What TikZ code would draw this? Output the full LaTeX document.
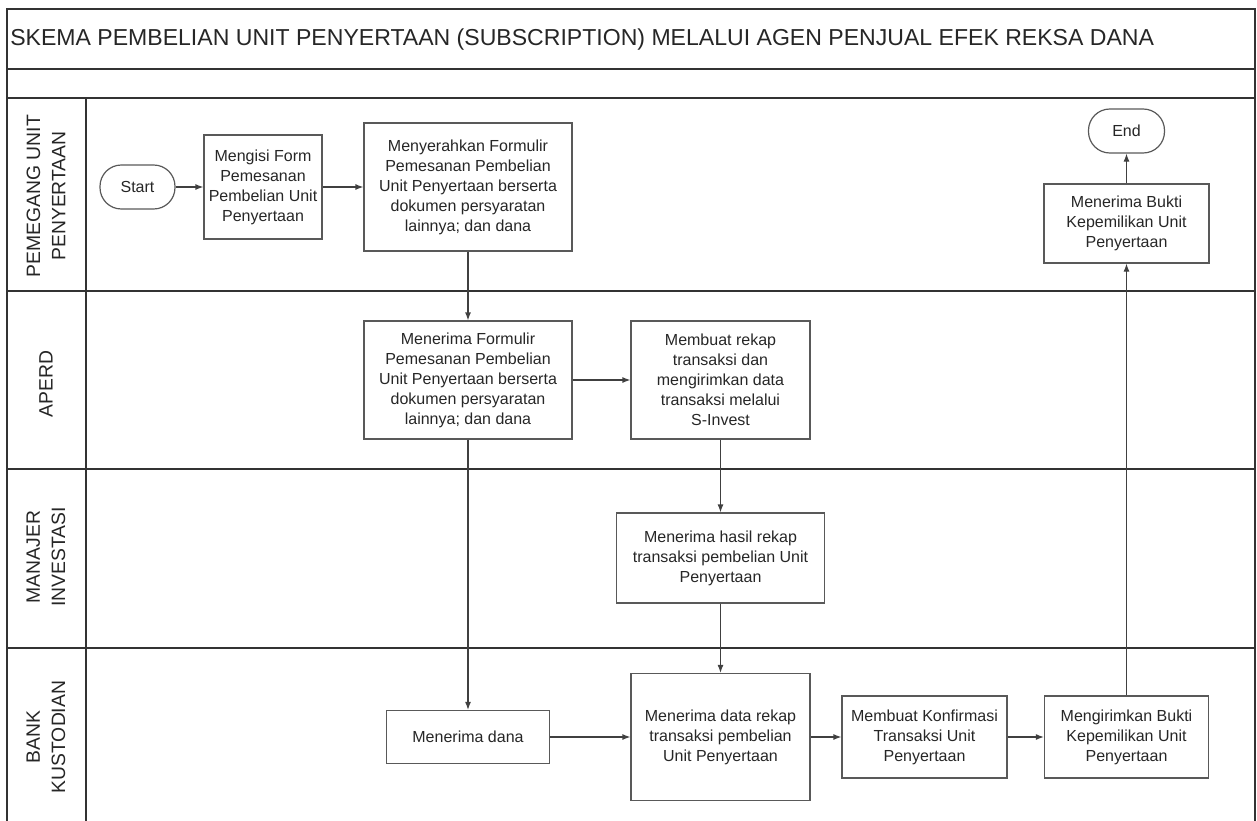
\documentclass[tikz,border=0pt]{standalone}
\usepackage{fontspec}
\setmainfont{Liberation Sans}
\usetikzlibrary{arrows.meta,positioning}

\begin{document}
\begin{tikzpicture}[x=0.75pt,y=-0.75pt,
  lane/.style={line width=1.3pt,draw=black!80},
  proc/.style={draw=black!65,line width=0.9pt,align=center,inner sep=0pt,
    font=\fontsize{12}{15}\selectfont,text=black!85},
  term/.style={proc,rounded corners=16pt},
  flow/.style={draw=black!75,line width=0.9pt,-{Latex[length=6pt,width=4.5pt]}},
  lanelabel/.style={rotate=90,align=center,font=\fontsize{14.5}{19}\selectfont,text=black!85}]

\useasboundingbox (0,0) rectangle (1257,821);

%Frame and lanes
\draw[lane] (7,821) -- (7,9) -- (1255,9) -- (1255,821);
\foreach \y in {69,98,291,469,648}
  \draw[lane] (7,\y) -- (1255,\y);
\draw[lane] (86,98) -- (86,821);

%Title and lane names
\node[anchor=base west,inner sep=0pt,font=\fontsize{17.3}{20}\selectfont,text=black!85] (title) at (10,45)
  {SKEMA PEMBELIAN UNIT PENYERTAAN (SUBSCRIPTION) MELALUI AGEN PENJUAL EFEK REKSA DANA};
\node[lanelabel] (pemegang) at (46,196) {PEMEGANG UNIT\\PENYERTAAN};
\node[lanelabel] (aperd) at (46,384) {APERD};
\node[lanelabel] (manajer) at (46,557) {MANAJER\\INVESTASI};
\node[lanelabel] (bank) at (46,737) {BANK\\KUSTODIAN};

%Steps
\node[term,minimum width=56.25pt,minimum height=33pt] (start) at (137.5,187) {Start};
\node[proc,minimum width=88.5pt,minimum height=78pt] (isi) at (263,187)
  {Mengisi Form\\Pemesanan\\Pembelian Unit\\Penyertaan};
\node[proc,minimum width=156pt,minimum height=96pt] (serah) at (468,187)
  {Menyerahkan Formulir\\Pemesanan Pembelian\\Unit Penyertaan berserta\\dokumen persyaratan\\lainnya; dan dana};
\node[term,minimum width=57pt,minimum height=33pt] (end) at (1126.5,131) {End};
\node[proc,minimum width=123.75pt,minimum height=59.25pt] (bukti) at (1126.5,223.5)
  {Menerima Bukti\\Kepemilikan Unit\\Penyertaan};

\node[proc,minimum width=156pt,minimum height=88.5pt] (terimaform) at (468,380)
  {Menerima Formulir\\Pemesanan Pembelian\\Unit Penyertaan berserta\\dokumen persyaratan\\lainnya; dan dana};
\node[proc,minimum width=134.25pt,minimum height=88.5pt] (rekap) at (720.5,380)
  {Membuat rekap\\transaksi dan\\mengirimkan data\\transaksi melalui\\S-Invest};

\node[proc,minimum width=156pt,minimum height=67.5pt] (hasil) at (720.5,558)
  {Menerima hasil rekap\\transaksi pembelian Unit\\Penyertaan};

\node[proc,minimum width=122.25pt,minimum height=39.75pt] (dana) at (468,737) {Menerima dana};
\node[proc,minimum width=134.25pt,minimum height=95.25pt] (data) at (720.5,737)
  {Menerima data rekap\\transaksi pembelian\\Unit Penyertaan};
\node[proc,minimum width=123.75pt,minimum height=61.5pt] (konfirm) at (924.5,737)
  {Membuat Konfirmasi\\Transaksi Unit\\Penyertaan};
\node[proc,minimum width=123pt,minimum height=61.5pt] (kirim) at (1126.5,737)
  {Mengirimkan Bukti\\Kepemilikan Unit\\Penyertaan};

%Connectors
\draw[flow] (start) -- (isi);
\draw[flow] (isi) -- (serah);
\draw[flow] (serah) -- (terimaform);
\draw[flow] (terimaform) -- (rekap);
\draw[flow] (terimaform) -- (dana);
\draw[flow] (rekap) -- (hasil);
\draw[flow] (hasil) -- (data);
\draw[flow] (dana) -- (data);
\draw[flow] (data) -- (konfirm);
\draw[flow] (konfirm) -- (kirim);
\draw[flow] (kirim) -- (bukti);
\draw[flow] (bukti) -- (end);
\end{tikzpicture}
\end{document}
